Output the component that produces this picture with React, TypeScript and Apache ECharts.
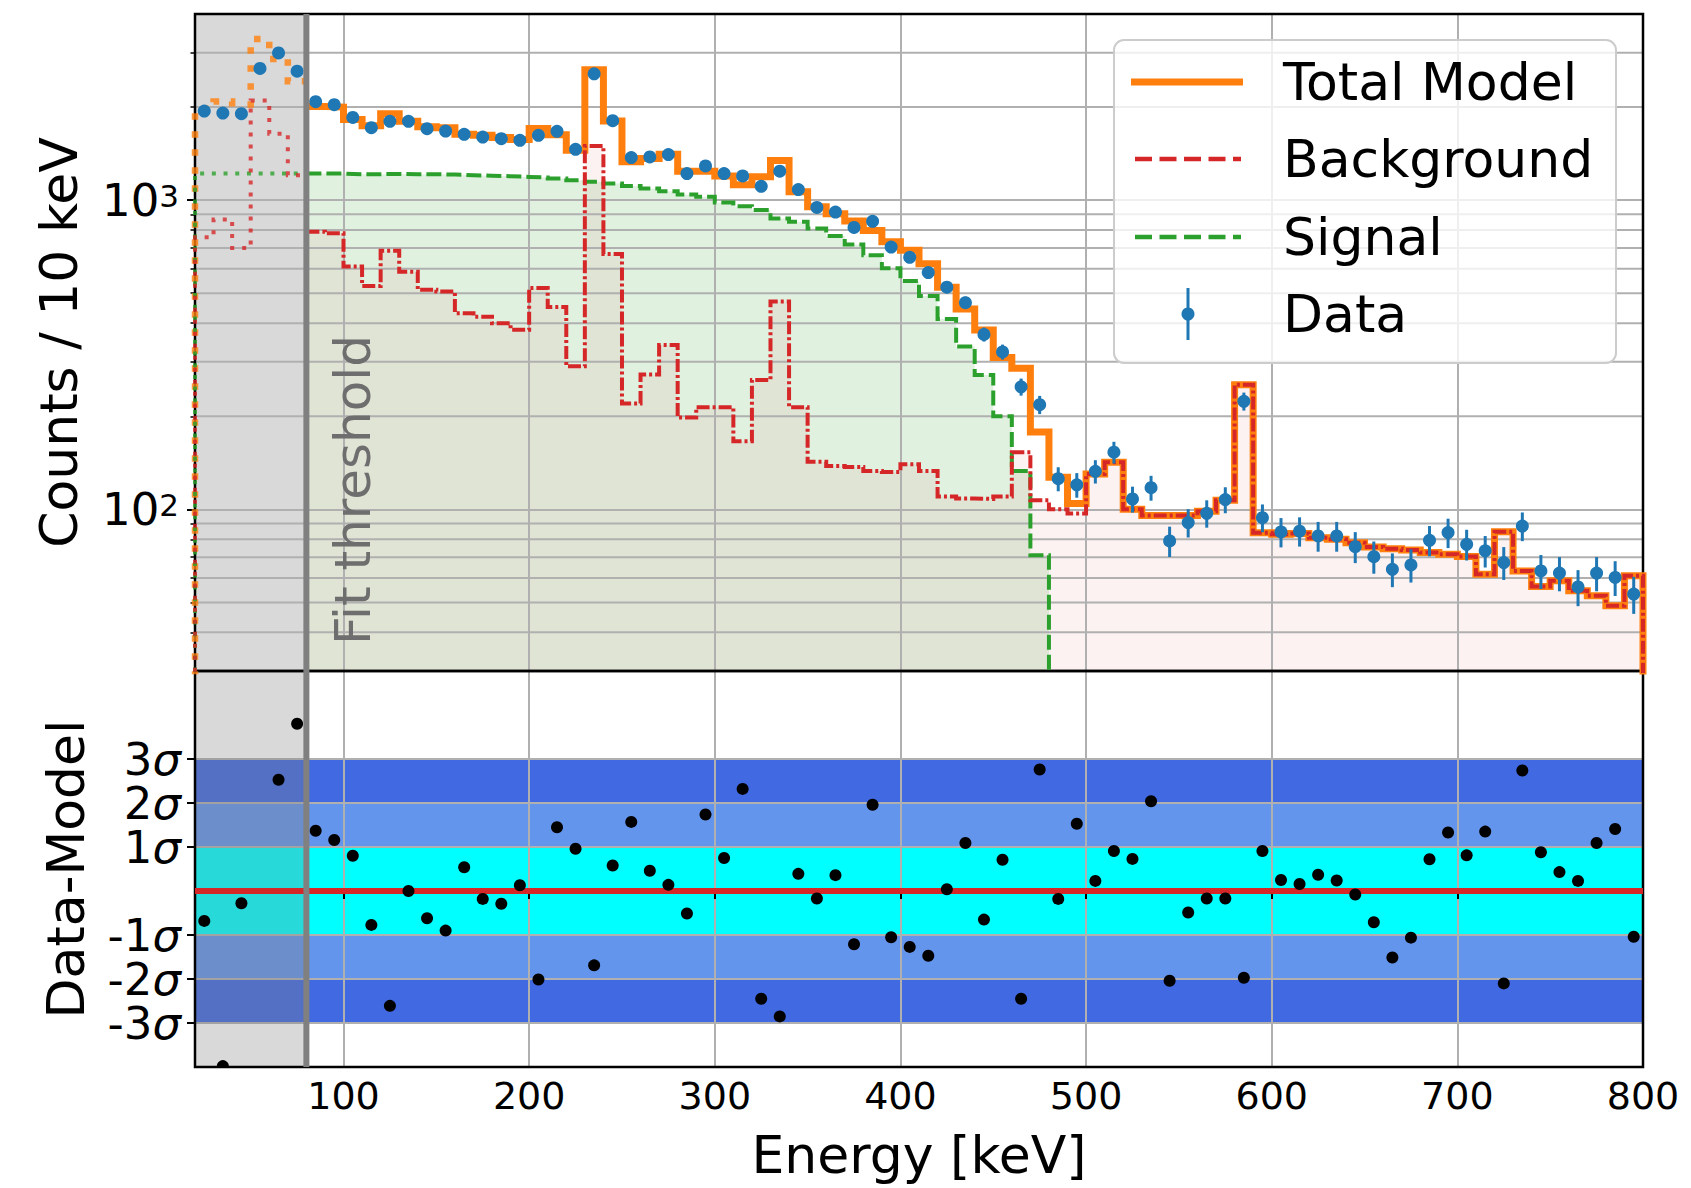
import React, { useEffect, useRef } from 'react';
import * as echarts from 'echarts';

const FONT = 'DejaVu Sans';

// ---------------- data ----------------
// 10 keV bins, left edges
const binLeftEdges = [
  20, 30, 40, 50, 60, 70, 80, 90, 100, 110,
  120, 130, 140, 150, 160, 170, 180, 190, 200, 210,
  220, 230, 240, 250, 260, 270, 280, 290, 300, 310,
  320, 330, 340, 350, 360, 370, 380, 390, 400, 410,
  420, 430, 440, 450, 460, 470, 480, 490, 500, 510,
  520, 530, 540, 550, 560, 570, 580, 590, 600, 610,
  620, 630, 640, 650, 660, 670, 680, 690, 700, 710,
  720, 730, 740, 750, 760, 770, 780, 790,
];
const BIN_WIDTH = 10;
const ENERGY_MIN = 20;
const ENERGY_MAX = 800;
const FIT_THRESHOLD = 80;
const COUNTS_MIN = 30;
const COUNTS_MAX = 4000;
const SIGMA_MIN = -4;
const SIGMA_MAX = 5;
const ZERO_COUNTS = 1; // empty bin: sits below the log-axis floor

// observed counts per bin
const dataCounts = [
  1941, 1912, 1904, 2666, 2993, 2612, 2081, 2036, 1852, 1716,
  1798, 1798, 1702, 1673, 1633, 1600, 1581, 1562, 1621, 1669,
  1460, 2563, 1807, 1373, 1380, 1404, 1219, 1290, 1219, 1198,
  1109, 1241, 1082, 947, 915, 816, 854, 705, 653, 583,
  523, 466, 368, 323, 249, 218, 125.6, 120, 132.7, 153,
  108, 117.5, 79, 90.6, 97.1, 107.5, 223.6, 94, 84.5, 85,
  82, 82, 75.7, 70.3, 64, 66.1, 79.4, 84.1, 77.1, 73.4,
  67.3, 88.3, 63.2, 62.2, 56.1, 62.2, 60.2, 53.2,
];

// background model per bin
const backgroundModel = [
  758, 866, 700, 2100, 1641, 1204, 790, 781, 610, 528,
  686, 587, 513, 506, 431, 420, 400, 381, 520, 451,
  290, 1497, 670, 220, 273, 340, 198, 214, 214, 166,
  262, 470, 214, 142.5, 138, 137, 133, 132, 140, 133,
  110, 108.5, 108, 110, 153, 107, 100, 97, 130, 142,
  100, 95.5, 95.5, 95.5, 98.5, 107, 253, 84, 83, 83.5,
  81, 80, 78, 75.5, 74.6, 73.9, 72.5, 71.6, 70.4, 61.7,
  84.7, 63.2, 56.3, 58.7, 54.5, 52.5, 48.8, 61,
];

// signal model per bin
const signalModel = [
  1220, 1220, 1220, 1220, 1220, 1220, 1220, 1219, 1213, 1213,
  1216, 1213, 1213, 1210, 1204, 1200, 1195, 1189, 1184, 1176,
  1160, 1146, 1132, 1112, 1091, 1068, 1043, 1026, 983, 956,
  929, 873, 851, 810, 765, 719, 664, 602, 548, 490,
  413, 336, 272, 200, 133, 71, 27, 7.5, 0, 0,
  0, 0, 0, 0, 0, 0, 0, 0, 0, 0,
  0, 0, 0, 0, 0, 0, 0, 0, 0, 0,
  0, 0, 0, 0, 0, 0, 0, 0,
];

// (data - model) / sigma per bin; null = off the plotted range
const residualSigma = [
  -0.68, -3.98, -0.28, null, 2.53, 3.8, 1.37, 1.16, 0.8, -0.77,
  -2.61, 0.0, -0.62, -0.9, 0.54, -0.18, -0.29, 0.13, -2.01, 1.45,
  0.96, -1.69, 0.58, 1.57, 0.46, 0.14, -0.51, 1.74, 0.75, 2.32,
  -2.45, -2.85, 0.39, -0.17, 0.36, -1.21, 1.96, -1.05, -1.27, -1.47,
  0.04, 1.09, -0.65, 0.71, -2.45, 2.76, -0.18, 1.53, 0.23, 0.91,
  0.73, 2.04, -2.04, -0.49, -0.17, -0.17, -1.97, 0.91, 0.25, 0.16,
  0.37, 0.24, -0.08, -0.71, -1.51, -1.06, 0.72, 1.33, 0.81, 1.35,
  -2.1, 2.74, 0.88, 0.43, 0.23, 1.09, 1.41, -1.04,
];

const energyTicks = [100, 200, 300, 400, 500, 600, 700, 800];
const countMajorTicks = [100, 1000];
const countMajorExponents = ['2', '3'];
const countMinorTicks = [40, 50, 60, 70, 80, 90, 200, 300, 400, 500, 600, 700, 800, 900, 2000, 3000];
const sigmaTicks = [-3, -2, -1, 1, 2, 3];
const sigmaLabelsOdd = [-3, -1, 1, 3];
const sigmaLabelsEven = [-2, 2];
const sigmaBands = [[-3, 3], [-2, 2], [-1, 1]];
const sigmaBandColors = ['#4169e1', '#6495ed', '#00ffff'];
const legendLabels = ['Total Model', 'Background', 'Signal', 'Data'];

// ---------------- styling ----------------
const C_TOTAL = '#ff7f0e';
const C_BKG = '#d62728';
const C_SIG = '#2ca02c';
const C_DATA = '#1f77b4';
const C_GRID = '#b0b0b0';
const Y_TICK_FONT = 45;

// ---------------- derived ----------------
const binCenters = binLeftEdges.map((e) => e + BIN_WIDTH / 2);
const totalModel = backgroundModel.map((b, i) => b + signalModel[i]);
const dataErrors = dataCounts.map((c) => Math.sqrt(c));
const fitStart = binLeftEdges.indexOf(FIT_THRESHOLD);
let signalEnd = signalModel.length;
while (signalEnd > 0 && !(signalModel[signalEnd - 1] > 0)) signalEnd--;

function stepPoints(values: number[], from: number, to: number, floorStart: boolean, floorEnd: boolean) {
  const pts: number[][] = [];
  if (floorStart) pts.push([binLeftEdges[from], ZERO_COUNTS]);
  for (let i = from; i < to; i++) pts.push([binLeftEdges[i], values[i]]);
  const end = binLeftEdges[to - 1] + BIN_WIDTH;
  pts.push([end, values[to - 1]]);
  if (floorEnd) pts.push([end, ZERO_COUNTS]);
  return pts;
}

const vLine = (color: string, width: number) => (params: any, api: any) => {
  const cs = params.coordSys;
  const x = api.coord([api.value(0), api.value(1)])[0];
  return { type: 'line', shape: { x1: x, y1: cs.y, x2: x, y2: cs.y + cs.height }, style: { stroke: color, lineWidth: width } };
};
const hLine = (color: string, width: number) => (params: any, api: any) => {
  const cs = params.coordSys;
  const y = api.coord([api.value(0), api.value(1)])[1];
  return { type: 'line', shape: { x1: cs.x, y1: y, x2: cs.x + cs.width, y2: y }, style: { stroke: color, lineWidth: width } };
};
const xSpan = (color: string) => (params: any, api: any) => {
  const cs = params.coordSys;
  const x0 = api.coord([api.value(0), api.value(2)])[0];
  const x1 = api.coord([api.value(1), api.value(2)])[0];
  return { type: 'rect', shape: { x: x0, y: cs.y, width: x1 - x0, height: cs.height }, style: { fill: color } };
};

function stepSeries(name: string, data: number[][], color: string, width: number, dash: any, z: number, opacity = 1) {
  return {
    type: 'line', name, xAxisIndex: 0, yAxisIndex: 0, data, step: 'end', symbol: 'none', showSymbol: false,
    lineStyle: { color, width, type: dash, cap: 'butt', join: 'miter', opacity },
    silent: true, z, emphasis: { disabled: true },
  };
}
function fillSeries(data: number[][], color: string, z: number) {
  return {
    type: 'line', xAxisIndex: 0, yAxisIndex: 0, data, step: 'end', symbol: 'none', showSymbol: false,
    lineStyle: { width: 0, opacity: 0 }, areaStyle: { color, origin: 'start', opacity: 1 },
    silent: true, z, emphasis: { disabled: true },
  };
}

function sigmaLabel(values: number[]) {
  return {
    fontFamily: FONT, color: '#000', fontSize: Y_TICK_FONT, lineHeight: 34, margin: 14,
    customValues: values, hideOverlap: false, interval: 0, showMinLabel: true, showMaxLabel: true,
    formatter: (v: number) => (values.includes(v) ? `{n|${v}}{g|σ}` : ''),
    rich: {
      n: { fontFamily: FONT, fontSize: Y_TICK_FONT, color: '#000', lineHeight: 34 },
      g: { fontFamily: FONT, fontSize: Y_TICK_FONT, color: '#000', fontStyle: 'italic', lineHeight: 34 },
    },
  };
}

function buildOption() {
  const textBase = { fontFamily: FONT, color: '#000' };
  const series: any[] = [
    // ---- top panel ----
    {
      type: 'custom', xAxisIndex: 0, yAxisIndex: 0, z: 0.5, silent: true,
      data: [[ENERGY_MIN, FIT_THRESHOLD, 100]], encode: { x: [0, 1], y: 2 },
      renderItem: xSpan('rgba(128,128,128,0.3)'),
    },
    fillSeries(stepPoints(signalModel, fitStart, signalEnd, false, false), 'rgba(44,160,44,0.15)', 0.7),
    fillSeries(stepPoints(backgroundModel, fitStart, backgroundModel.length, false, false), 'rgba(214,39,40,0.06)', 0.8),
    {
      type: 'custom', xAxisIndex: 0, yAxisIndex: 0, z: 1, silent: true,
      data: countMinorTicks.map((v) => [ENERGY_MIN, v]), encode: { x: 0, y: 1 },
      renderItem: hLine(C_GRID, 2),
    },
    stepSeries('Total Model (below threshold)', stepPoints(totalModel, 0, fitStart, true, false), C_TOTAL, 6.5, [6.5, 11.5], 3, 0.8),
    stepSeries('Total Model', stepPoints(totalModel, fitStart, totalModel.length, false, true), C_TOTAL, 7, 'solid', 3),
    stepSeries('Signal (below threshold)', stepPoints(signalModel, 0, fitStart, true, false), C_SIG, 4, [4, 7.7], 4, 0.8),
    stepSeries('Signal', stepPoints(signalModel, fitStart, signalEnd, false, false), C_SIG, 4, [15, 5], 4),
    stepSeries('Background (below threshold)', stepPoints(backgroundModel, 0, fitStart, true, false), C_BKG, 4, [4, 8], 5, 0.8),
    stepSeries('Background', stepPoints(backgroundModel, fitStart, backgroundModel.length, false, true), C_BKG, 4, [13, 3, 3, 3], 5),
    {
      type: 'custom', name: 'Data errors', xAxisIndex: 0, yAxisIndex: 0, z: 6, silent: true,
      data: dataCounts.map((c, i) => [binCenters[i], c - dataErrors[i], c + dataErrors[i]]),
      encode: { x: 0, y: [1, 2] },
      renderItem: (params: any, api: any) => {
        const a = api.coord([api.value(0), api.value(1)]);
        const b = api.coord([api.value(0), api.value(2)]);
        return { type: 'line', shape: { x1: a[0], y1: a[1], x2: b[0], y2: b[1] }, style: { stroke: C_DATA, lineWidth: 3 } };
      },
    },
    {
      type: 'scatter', name: 'Data', xAxisIndex: 0, yAxisIndex: 0, z: 7, silent: true,
      data: dataCounts.map((c, i) => [binCenters[i], c]),
      symbol: 'circle', symbolSize: 13, itemStyle: { color: C_DATA, opacity: 1 },
    },
    {
      type: 'custom', xAxisIndex: 0, yAxisIndex: 0, z: 8, silent: true,
      data: [[FIT_THRESHOLD, 100]], encode: { x: 0, y: 1 }, renderItem: vLine('#808080', 6),
    },
    // ---- bottom panel ----
    {
      type: 'custom', xAxisIndex: 1, yAxisIndex: 1, z: 0.5, silent: true,
      data: sigmaBands.map(([lo, hi]) => [ENERGY_MIN, lo, hi]), encode: { x: 0, y: [1, 2] },
      renderItem: (params: any, api: any) => {
        const cs = params.coordSys;
        const yHi = api.coord([api.value(0), api.value(2)])[1];
        const yLo = api.coord([api.value(0), api.value(1)])[1];
        return { type: 'rect', shape: { x: cs.x, y: yHi, width: cs.width, height: yLo - yHi }, style: { fill: sigmaBandColors[params.dataIndex] } };
      },
    },
    {
      type: 'custom', xAxisIndex: 1, yAxisIndex: 1, z: 1.2, silent: true,
      data: sigmaTicks.map((v) => [ENERGY_MIN, v]), encode: { x: 0, y: 1 },
      renderItem: hLine(C_GRID, 2),
    },
    {
      type: 'custom', xAxisIndex: 1, yAxisIndex: 1, z: 1.5, silent: true,
      data: [[ENERGY_MIN, FIT_THRESHOLD, 0]], encode: { x: [0, 1], y: 2 },
      renderItem: xSpan('rgba(128,128,128,0.3)'),
    },
    {
      type: 'line', xAxisIndex: 1, yAxisIndex: 1, z: 2, silent: true, symbol: 'none',
      data: [[ENERGY_MIN, 0], [ENERGY_MAX, 0]], lineStyle: { color: C_BKG, width: 6 }, emphasis: { disabled: true },
    },
    {
      type: 'custom', name: 'Residuals', xAxisIndex: 1, yAxisIndex: 1, z: 3, silent: true,
      data: residualSigma.map((r, i) => (r === null ? null : [binCenters[i], r])).filter((d) => d !== null),
      encode: { x: 0, y: 1 },
      renderItem: (params: any, api: any) => {
        const cs = params.coordSys;
        const p = api.coord([api.value(0), api.value(1)]);
        return {
          type: 'circle', shape: { cx: p[0], cy: p[1], r: 6 }, style: { fill: '#000' },
          clipPath: { type: 'rect', shape: { x: cs.x, y: cs.y, width: cs.width, height: cs.height } },
        };
      },
    },
    {
      type: 'custom', xAxisIndex: 1, yAxisIndex: 1, z: 8, silent: true,
      data: [[FIT_THRESHOLD, 0]], encode: { x: 0, y: 1 }, renderItem: vLine('#808080', 6),
    },
  ];

  const legendY = [82, 159, 237, 314];
  const graphic: any[] = [
    {
      type: 'rect', z: 100, shape: { x: 1114, y: 40, width: 502, height: 323, r: 10 },
      style: { fill: 'rgba(255,255,255,0.8)', stroke: '#cccccc', lineWidth: 2 },
    },
    { type: 'line', z: 101, shape: { x1: 1131, y1: legendY[0], x2: 1243, y2: legendY[0] }, style: { stroke: C_TOTAL, lineWidth: 7 } },
    { type: 'line', z: 101, shape: { x1: 1135, y1: legendY[1], x2: 1241, y2: legendY[1] }, style: { stroke: C_BKG, lineWidth: 4.5, lineDash: [17, 7.5] } },
    { type: 'line', z: 101, shape: { x1: 1135, y1: legendY[2], x2: 1241, y2: legendY[2] }, style: { stroke: C_SIG, lineWidth: 4.5, lineDash: [17, 7.5] } },
    { type: 'line', z: 101, shape: { x1: 1188, y1: legendY[3] - 26, x2: 1188, y2: legendY[3] + 26 }, style: { stroke: C_DATA, lineWidth: 3 } },
    { type: 'circle', z: 101, shape: { cx: 1188, cy: legendY[3], r: 6.5 }, style: { fill: C_DATA } },
    ...legendLabels.map((t, i) => ({
      type: 'text', z: 101, x: 1283, y: legendY[i],
      style: { text: t, fontSize: 52, fontFamily: FONT, fill: '#000', align: 'left', verticalAlign: 'middle' },
    })),
    {
      type: 'text', z: 9, x: 378, y: 645, rotation: Math.PI / 2,
      style: { text: 'Fit threshold', fontSize: 50, fontFamily: FONT, fill: '#6e6e6e', align: 'left', verticalAlign: 'bottom' },
    },
  ];

  const axisLineOff = { show: false };
  const tickStyle = { show: true, length: 8, lineStyle: { color: '#000', width: 2 } };

  return {
    animation: false,
    backgroundColor: '#ffffff',
    grid: [
      { left: 195, right: 48, top: 14, height: 657, show: true, borderColor: '#000', borderWidth: 2.5, backgroundColor: 'transparent', containLabel: false, outerBoundsMode: 'none', z: 2 },
      { left: 195, right: 48, top: 671, height: 396, show: true, borderColor: '#000', borderWidth: 2.5, backgroundColor: 'transparent', containLabel: false, outerBoundsMode: 'none', z: 2 },
    ],
    xAxis: [
      {
        type: 'value', gridIndex: 0, min: ENERGY_MIN, max: ENERGY_MAX, splitNumber: 8, z: 1,
        axisLine: axisLineOff, axisTick: { show: false }, axisLabel: { show: false },
        splitLine: { show: true, lineStyle: { color: C_GRID, width: 2 } },
      },
      {
        type: 'value', gridIndex: 1, min: ENERGY_MIN, max: ENERGY_MAX, splitNumber: 8, z: 1,
        axisLine: axisLineOff,
        axisTick: { ...tickStyle, customValues: energyTicks },
        axisLabel: {
          ...textBase, fontSize: 38, lineHeight: 28, margin: 15, customValues: energyTicks, hideOverlap: false,
          interval: 0, showMinLabel: true, showMaxLabel: true,
          formatter: (v: number) => (energyTicks.includes(v) ? String(v) : ''),
        },
        splitLine: { show: true, lineStyle: { color: C_GRID, width: 2 } },
        name: 'Energy [keV]', nameLocation: 'middle', nameGap: 68, nameMoveOverlap: false,
        nameTextStyle: { ...textBase, fontSize: 52, lineHeight: 40 },
      },
    ],
    yAxis: [
      {
        type: 'log', logBase: 10, gridIndex: 0, min: COUNTS_MIN, max: COUNTS_MAX, z: 1,
        axisLine: axisLineOff,
        axisTick: { ...tickStyle, customValues: countMajorTicks },
        axisLabel: {
          ...textBase, fontSize: Y_TICK_FONT, margin: 16, customValues: countMajorTicks, hideOverlap: false,
          interval: 0, showMinLabel: true, showMaxLabel: true,
          formatter: (v: number) => {
            const i = countMajorTicks.findIndex((t) => Math.abs(t - v) / t < 1e-6);
            return i >= 0 ? `{b|10}{s|${countMajorExponents[i]}}` : '';
          },
          rich: {
            b: { fontFamily: FONT, fontSize: Y_TICK_FONT, color: '#000', lineHeight: 40 },
            s: { fontFamily: FONT, fontSize: 31, color: '#000', lineHeight: 14, verticalAlign: 'top' },
          },
        },
        splitLine: { show: true, lineStyle: { color: C_GRID, width: 2 } },
        name: 'Counts / 10 keV', nameLocation: 'middle', nameGap: 110, nameMoveOverlap: false,
        nameTextStyle: { ...textBase, fontSize: 52 },
      },
      {
        type: 'value', gridIndex: 1, min: SIGMA_MIN, max: SIGMA_MAX, interval: 1, z: 1,
        axisLine: axisLineOff,
        axisTick: { ...tickStyle, customValues: sigmaTicks },
        axisLabel: sigmaLabel(sigmaLabelsOdd),
        splitLine: { show: false },
        name: 'Data-Model', nameLocation: 'middle', nameGap: 103, nameMoveOverlap: false,
        nameTextStyle: { ...textBase, fontSize: 52 },
      },
      {
        type: 'log', logBase: 10, gridIndex: 0, min: COUNTS_MIN, max: COUNTS_MAX, position: 'left', z: 1,
        axisLine: axisLineOff, axisLabel: { show: false }, splitLine: { show: false },
        axisTick: { show: true, length: 4.5, lineStyle: { color: '#000', width: 1.5 }, customValues: countMinorTicks },
      },
      {
        type: 'value', gridIndex: 1, min: SIGMA_MIN, max: SIGMA_MAX, interval: 1, position: 'left', z: 1,
        axisLine: axisLineOff, axisTick: { show: false }, splitLine: { show: false },
        axisLabel: sigmaLabel(sigmaLabelsEven),
      },
    ],
    series,
    graphic,
  };
}

export default function App() {
  const ref = useRef<HTMLDivElement>(null);
  useEffect(() => {
    if (!ref.current) return;
    const chart = echarts.init(ref.current, null, { renderer: 'svg' });
    chart.setOption(buildOption() as any);
    return () => chart.dispose();
  }, []);
  return (
    <div
      ref={ref}
      style={{ position: 'fixed', left: 0, top: 0, width: 1691, height: 1188, background: '#ffffff' }}
    />
  );
}
